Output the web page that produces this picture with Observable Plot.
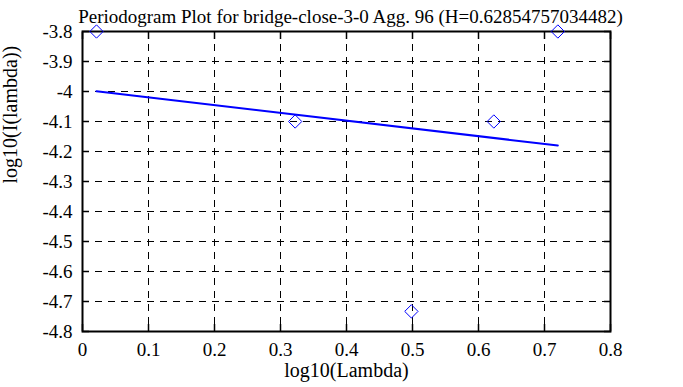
<!DOCTYPE html>
<html>
<head>
<meta charset="utf-8">
<script src="https://cdn.jsdelivr.net/npm/d3@7"></script>
<script src="https://cdn.jsdelivr.net/npm/@observablehq/plot@0.6"></script>
<style>
  html, body { margin: 0; padding: 0; background: #fff; }
</style>
</head>
<body>
<div id="chart"></div>
<script>
const titleText = "Periodogram Plot for bridge-close-3-0 Agg. 96 (H=0.62854757034482)";
const xLabel = "log10(Lambda)";
const yLabel = "log10(I(lambda))";

const pointX = [0.0212, 0.3222, 0.4983, 0.6232, 0.7202];
const pointY = [-3.8, -4.1, -4.733, -4.1, -3.8];

const fitX = [0.0212, 0.7202];
const fitY = [-3.999, -4.180];

const xTicks = [0, 0.1, 0.2, 0.3, 0.4, 0.5, 0.6, 0.7, 0.8];
const yTicks = [-3.8, -3.9, -4, -4.1, -4.2, -4.3, -4.4, -4.5, -4.6, -4.7, -4.8];

const points = pointX.map((x, i) => ({x, y: pointY[i]}));
const fit = fitX.map((x, i) => ({x, y: fitY[i]}));
const fmt = d => String(Math.round(d * 10) / 10);
const blank = () => "";
const serif = "Liberation Serif";

const chart = Plot.plot({
  width: 683,
  height: 387,
  marginLeft: 82,
  marginRight: 73,
  marginTop: 31,
  marginBottom: 56,
  style: {fontSize: "20px", color: "black", background: "white", fontFamily: serif},
  x: {domain: [0, 0.8]},
  y: {domain: [-4.8, -3.8]},
  marks: [
    Plot.gridX(xTicks, {stroke: "black", strokeOpacity: 1, strokeDasharray: "7,6"}),
    Plot.gridY(yTicks, {stroke: "black", strokeOpacity: 1, strokeDasharray: "7,6"}),
    Plot.axisX(xTicks, {anchor: "bottom", tickSize: 0, tickPadding: 11, tickFormat: fmt, label: null, fontSize: 19, fontFamily: serif}),
    Plot.axisX(xTicks, {anchor: "bottom", tickSize: -7, tickFormat: blank, label: null, strokeWidth: 1.5}),
    Plot.axisX(xTicks, {anchor: "top", tickSize: -7, tickFormat: blank, label: null, strokeWidth: 1.5}),
    Plot.axisY(yTicks, {anchor: "left", tickSize: 0, tickPadding: 10, tickFormat: fmt, label: null, fontSize: 19, fontFamily: serif}),
    Plot.axisY(yTicks, {anchor: "left", tickSize: -7, tickFormat: blank, label: null, strokeWidth: 1.5}),
    Plot.axisY(yTicks, {anchor: "right", tickSize: -7, tickFormat: blank, label: null, strokeWidth: 1.5}),
    Plot.frame({stroke: "black", strokeWidth: 2}),
    Plot.line(fit, {x: "x", y: "y", stroke: "blue", strokeWidth: 2}),
    Plot.dot(points, {x: "x", y: "y", symbol: "diamond2", r: 6, stroke: "blue", fill: "none", strokeWidth: 1}),
    Plot.text([titleText], {frameAnchor: "top", dy: -22, dx: 4, fontSize: 19, fill: "black", fontFamily: serif}),
    Plot.text([xLabel], {frameAnchor: "bottom", dy: 45, fontSize: 20, fill: "black", fontFamily: serif}),
    Plot.text([yLabel], {frameAnchor: "left", dx: -72, dy: 2, rotate: -90, fontSize: 20, fill: "black", fontFamily: serif})
  ]
});
document.getElementById("chart").appendChild(chart);
</script>
</body>
</html>
